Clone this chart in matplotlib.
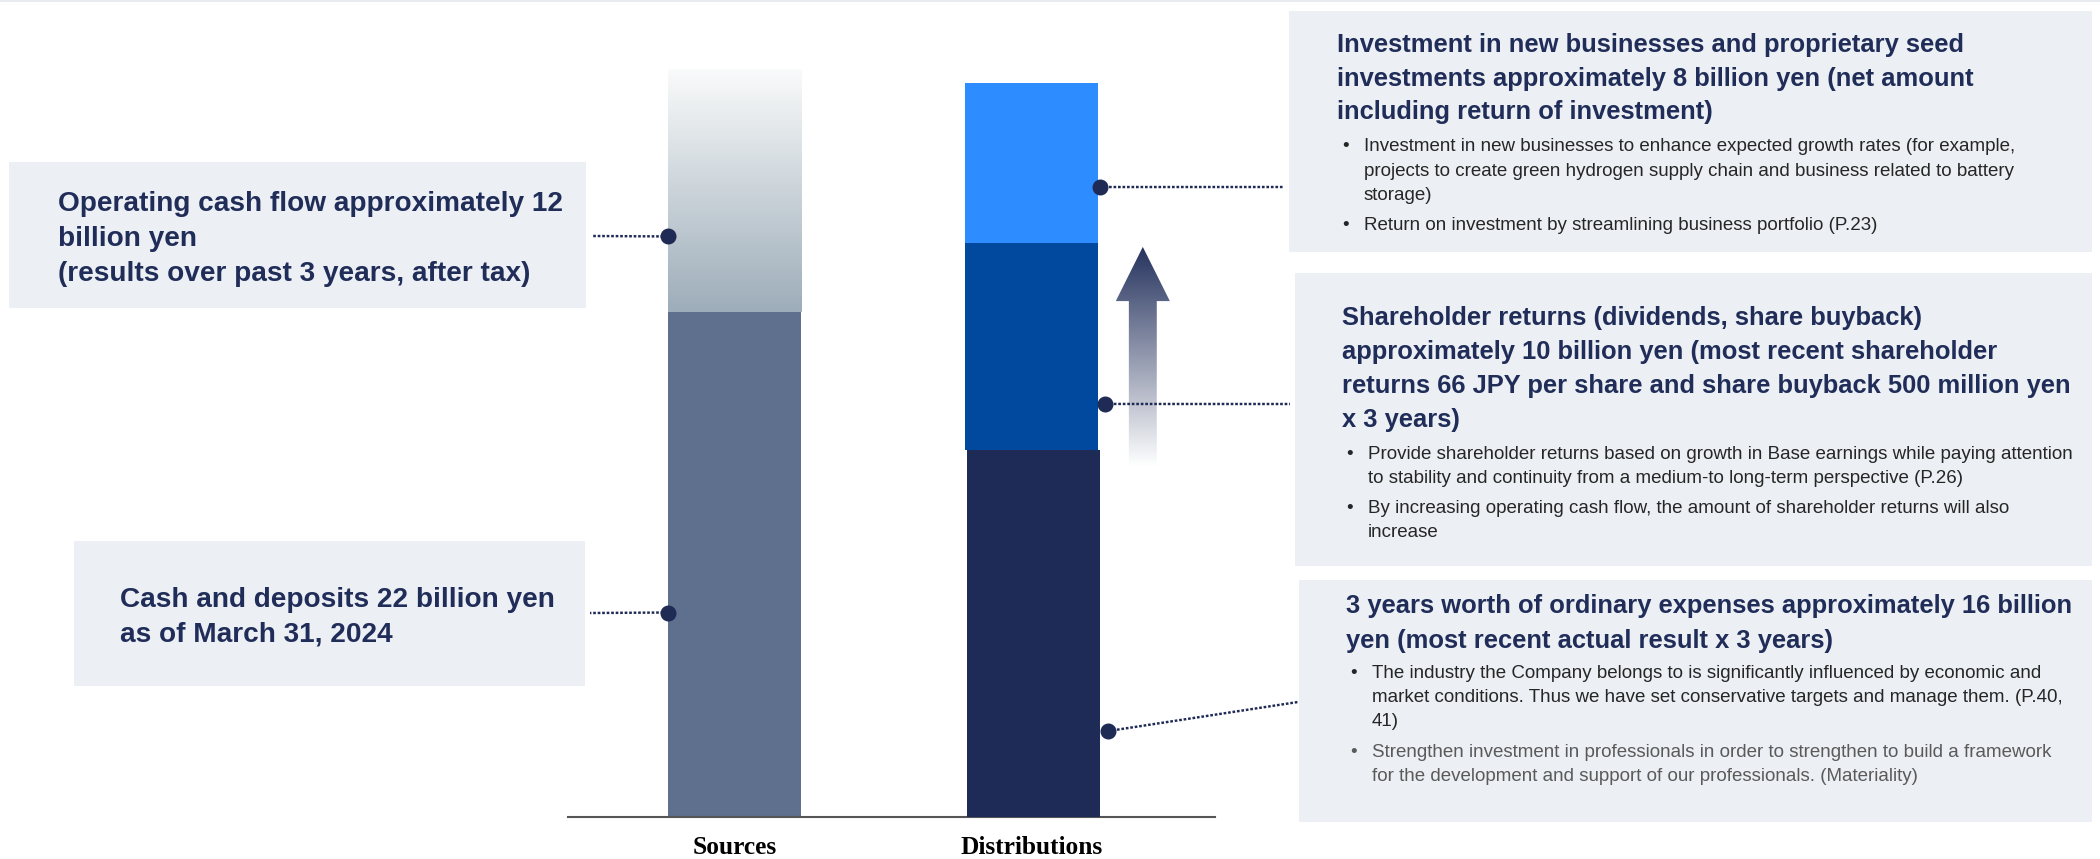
import matplotlib
matplotlib.use('Agg')
import matplotlib.pyplot as plt
import numpy as np
from matplotlib.patches import Rectangle, Polygon, ConnectionPatch
from matplotlib.lines import Line2D
from matplotlib.colors import LinearSegmentedColormap

# ---------------- data ----------------
categories = ['Sources', 'Distributions']
source_labels = ['Cash and deposits', 'Operating cash flow']
source_values = [22, 10.6]        # as drawn (billion yen)
dist_labels = ['Ordinary expenses (3 years)', 'Shareholder returns',
               'New businesses & seed investments']
dist_values = [16, 9, 7]          # as drawn (billion yen)

opcf_lines = ['Operating cash flow approximately 12', 'billion yen',
              '(results over past 3 years, after tax)']
cash_lines = ['Cash and deposits 22 billion yen', 'as of March 31, 2024']

inv_head = ['Investment in new businesses and proprietary seed',
            'investments approximately 8 billion yen (net amount',
            'including return of investment)']
inv_bullets = [['Investment in new businesses to enhance expected growth rates (for example,',
                'projects to create green hydrogen supply chain and business related to battery',
                'storage)'],
               ['Return on investment by streamlining business portfolio (P.23)']]

sh_head = ['Shareholder returns (dividends, share buyback)',
           'approximately 10 billion yen (most recent shareholder',
           'returns 66 JPY per share and share buyback 500 million yen',
           'x 3 years)']
sh_bullets = [['Provide shareholder returns based on growth in Base earnings while paying attention',
               'to stability and continuity from a medium-to long-term perspective (P.26)'],
              ['By increasing operating cash flow, the amount of shareholder returns will also',
               'increase']]

exp_head = ['3 years worth of ordinary expenses approximately 16 billion',
            'yen (most recent actual result x 3 years)']
exp_bullets = [['The industry the Company belongs to is significantly influenced by economic and',
                'market conditions. Thus we have set conservative targets and manage them. (P.40,',
                '41)'],
               ['Strengthen investment in professionals in order to strengthen to build a framework',
                'for the development and support of our professionals. (Materiality)']]

# ---------------- style ----------------
plt.rcParams['font.family'] = ['Liberation Sans', 'DejaVu Sans']
NAVY_TXT = '#202D59'
DOT = '#1F2A55'
BOX = '#ECEFF3'
BODY = '#262626'
GRAY = '#5A5A5A'
cash_color = '#5F6F8E'
dist_colors = ['#1E2B57', '#01499E', '#2D8CFF']

W, H = 2100, 859
fig = plt.figure(figsize=(21, 8.59), dpi=100)
fig.patch.set_facecolor('white')


def fx(x):
    return x / W


def fy(y):
    return 1 - y / H


def box(x0, y0, x1, y1):
    fig.add_artist(Rectangle((fx(x0), fy(y1)), (x1 - x0) / W, (y1 - y0) / H,
                             transform=fig.transFigure, facecolor=BOX,
                             edgecolor='none', zorder=-1))


def ftext(x, y, s, **kw):
    fig.text(fx(x), fy(y), s, va='baseline', ha='left', **kw)


# top thin line
fig.add_artist(Line2D([0, 1], [fy(1), fy(1)], transform=fig.transFigure,
                      color='#E4E8ED', lw=1.2, zorder=-1))

# ---------------- bar axes ----------------
ax = fig.add_axes([568 / W, (H - 817) / H, 647 / W, 817 / H])
ax.set_facecolor('none')
bw = 0.448

# Sources: cash (solid) + operating cash flow (gradient)
ax.bar(0, source_values[0], bw, color=cash_color, zorder=2)
op_bar = ax.bar(0, source_values[1], bw, bottom=source_values[0],
                color='none', zorder=2)[0]
grad_cmap = LinearSegmentedColormap.from_list('g', ['#9DADB9', '#FAFBFB'])
g = np.linspace(0, 1, 256).reshape(-1, 1)
im = ax.imshow(g, cmap=grad_cmap, origin='lower', aspect='auto',
               extent=[-bw / 2, bw / 2, source_values[0], sum(source_values)],
               zorder=2, interpolation='bicubic')
im.set_clip_path(op_bar)

# Distributions stacked (bottom block drawn slightly offset, as in the original)
bottoms = np.concatenate([[0], np.cumsum(dist_values)[:-1]])
x_offsets = [0.008, 0.0, 0.0]
for i, (v, b, c) in enumerate(zip(dist_values, bottoms, dist_colors)):
    ax.bar(1 + x_offsets[i], v, bw, bottom=b, color=c, zorder=3 if i == 0 else 2)

# Upward gradient arrow
ax_c, head_hw, shaft_hw = 1.375, 0.091, 0.047
y_tip, y_head, y_bot = 24.84, 22.48, 15.3
arrow = Polygon([[ax_c - shaft_hw, y_bot], [ax_c - shaft_hw, y_head],
                 [ax_c - head_hw, y_head], [ax_c, y_tip],
                 [ax_c + head_hw, y_head], [ax_c + shaft_hw, y_head],
                 [ax_c + shaft_hw, y_bot]], closed=True,
                facecolor='none', edgecolor='none')
ax.add_patch(arrow)
arr_cmap = LinearSegmentedColormap.from_list('a', ['#FFFFFF', '#26335E'])
im2 = ax.imshow(g, cmap=arr_cmap, origin='lower', aspect='auto',
                extent=[ax_c - head_hw, ax_c + head_hw, y_bot, y_tip],
                zorder=2, interpolation='bicubic')
im2.set_clip_path(arrow)

ax.set_xlim(-0.56, 1.618)
ax.set_ylim(0, 817 / 22.95)
for s in ['left', 'right', 'top']:
    ax.spines[s].set_visible(False)
ax.spines['bottom'].set_color('#555555')
ax.spines['bottom'].set_linewidth(1.5)
ax.set_yticks([])
ax.set_xticks([0, 1])
ax.set_xticklabels(categories, fontfamily=['Liberation Serif', 'DejaVu Serif'],
                   fontweight='bold', fontsize=18.3, color='black')
ax.tick_params(axis='x', length=0, pad=14)

# ---------------- text boxes ----------------
box(9, 162, 586, 308)
box(74, 541, 585, 686)
box(1289, 11, 2092, 252)
box(1295, 273, 2092, 566)
box(1299, 580, 2092, 822)

HEAD_L = dict(fontsize=20.2, fontweight='bold', color=NAVY_TXT)
HEAD_R = dict(fontsize=18.4, fontweight='bold', color=NAVY_TXT)
BUL = dict(fontsize=13.5)

for s, y in zip(opcf_lines, [211, 246, 281]):
    ftext(58, y, s, **HEAD_L)
for s, y in zip(cash_lines, [607, 641]):
    ftext(120, y, s, **HEAD_L)


def right_block(hx, heads, hys, bx, tx, bullets, bys, colors):
    for s, y in zip(heads, hys):
        ftext(hx, y, s, **HEAD_R)
    for lines, ys, col in zip(bullets, bys, colors):
        ftext(bx, ys[0], '\u2022', color=col, **BUL)
        for s, y in zip(lines, ys):
            ftext(tx, y, s, color=col, **BUL)


right_block(1337, inv_head, [52, 86, 119], 1342, 1364, inv_bullets,
            [[151, 176, 200], [230]], [BODY, BODY])
right_block(1342, sh_head, [325, 359, 393, 427], 1346, 1368, sh_bullets,
            [[459, 483], [513, 537]], [BODY, BODY])
right_block(1346, exp_head, [613, 648], 1350, 1372, exp_bullets,
            [[678, 702, 726], [757, 781]], [BODY, GRAY])

# ---------------- dots & dotted leader lines ----------------
src_bottoms = [0, source_values[0]]
# (x in data, segment bottom, segment value, fraction in segment, figure px end)
leaders = [
    (-bw / 2, src_bottoms[1], source_values[1], 0.311, (593, 236)),
    (-bw / 2, src_bottoms[0], source_values[0], 0.405, (590, 613)),
    (1 + bw / 2 + 0.007, bottoms[2], dist_values[2], 0.35, (1283, 187)),
    (1 + bw / 2 + 0.023, bottoms[1], dist_values[1], 0.222, (1290, 404)),
    (1 + bw / 2 + 0.034, bottoms[0], dist_values[0], 0.234, (1298, 702)),
]
for xd, b, v, f, (ex, ey) in leaders:
    yd = b + f * v
    ax.plot([xd], [yd], 'o', ms=10.5, color=DOT, mec=DOT, zorder=5, clip_on=False)
    con = ConnectionPatch(xyA=(xd, yd), coordsA=ax.transData,
                          xyB=(fx(ex), fy(ey)), coordsB=fig.transFigure,
                          color=DOT, lw=1.75, linestyle=(0, (1.1, 0.75)),
                          capstyle='butt', zorder=4)
    fig.add_artist(con)

fig.savefig('out.png', dpi=100, facecolor='white')
